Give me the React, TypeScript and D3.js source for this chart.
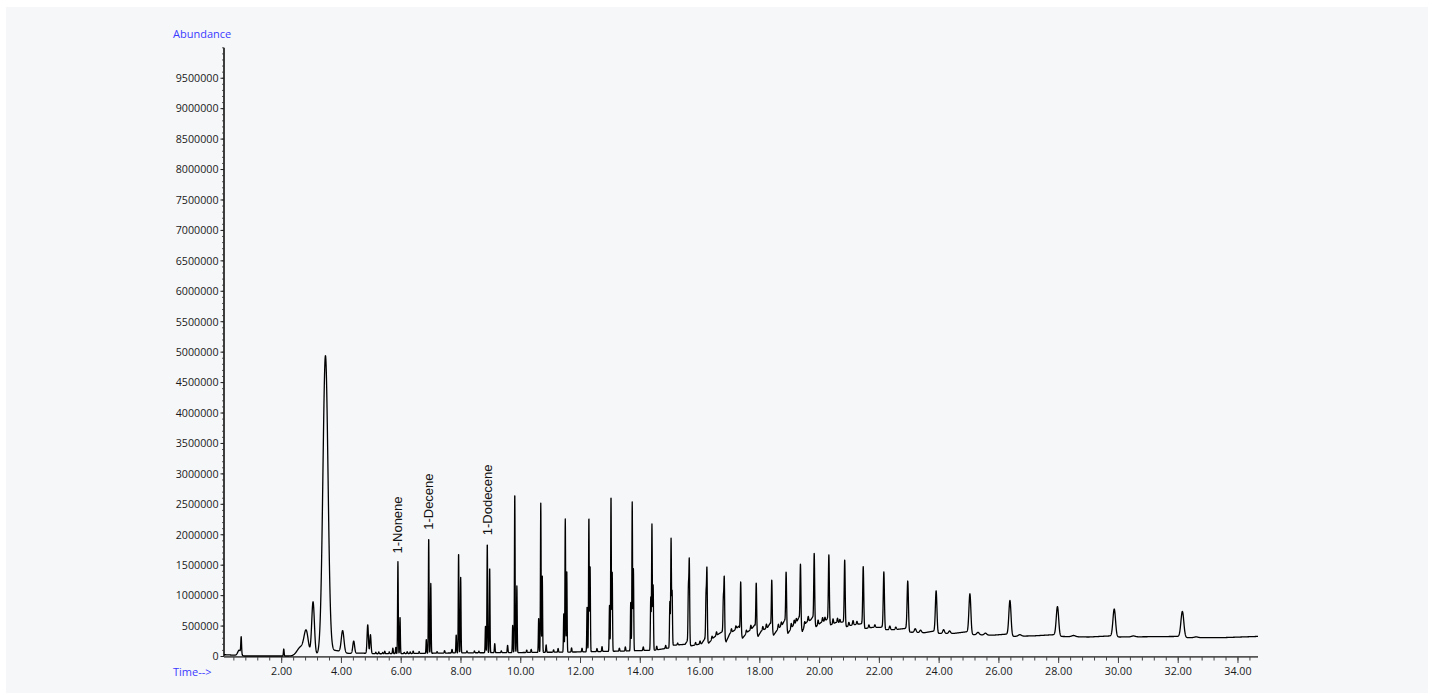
import React from 'react';
import * as d3 from 'd3';

const W = 1435;
const H = 695;

// baseline (time in min, abundance)
const baselinePoints: [number, number][] = [
  [0.07, 30000], [0.4, 22000], [0.75, 8000], [2.3, 8000], [3.0, 25000], [3.9, 50000], [4.7, 55000], [5.2, 45000],
  [6.5, 50000], [8, 60000], [10, 65000], [12, 75000], [13.5, 90000], [14.5, 105000], [14.95, 140000], [15.1, 185000],
  [15.5, 200000], [15.57, 255000], [15.7, 175000], [16.05, 210000], [16.17, 300000], [16.29, 220000], [16.45, 310000],
  [16.62, 370000], [16.75, 410000], [16.87, 240000], [17.0, 380000], [17.15, 430000], [17.3, 500000], [17.42, 300000],
  [17.58, 400000], [17.72, 450000], [17.83, 520000], [17.94, 330000], [18.05, 420000], [18.25, 470000], [18.35, 550000],
  [18.46, 350000], [18.6, 450000], [18.75, 520000], [18.83, 600000], [18.94, 380000], [19.1, 500000], [19.25, 580000],
  [19.31, 650000], [19.42, 410000], [19.55, 560000], [19.7, 600000], [19.77, 650000], [19.88, 490000], [20.05, 560000],
  [20.2, 590000], [20.26, 620000], [20.37, 520000], [20.55, 560000], [20.7, 560000], [20.79, 570000], [20.9, 490000],
  [21.1, 520000], [21.3, 530000], [21.41, 540000], [21.52, 460000], [21.8, 480000], [22.05, 480000], [22.1, 490000],
  [22.21, 440000], [22.5, 440000], [22.85, 460000], [22.9, 470000], [23.01, 400000], [23.5, 390000], [23.85, 420000],
  [23.96, 380000], [24.5, 380000], [24.98, 410000], [25.09, 360000], [25.8, 350000], [26.32, 370000], [26.43, 330000],
  [27.2, 340000], [27.9, 360000], [28.03, 330000], [29.0, 320000], [29.8, 340000], [29.93, 320000], [31.0, 325000],
  [32.08, 330000], [32.21, 310000], [33.5, 310000], [34.67, 330000],
];

// early eluting peaks: time, height above baseline, sigma
const earlyPeaks: [number, number, number][] = [
  [0.58, 90000, 0.05], [0.645, 275000, 0.013], [2.07, 115000, 0.012], [2.64, 140000, 0.12], [2.82, 370000, 0.07],
  [3.05, 870000, 0.045], [3.465, 4900000, 0.085], [3.8, 50000, 0.15], [4.04, 360000, 0.045], [4.41, 200000, 0.03],
  [4.88, 470000, 0.022], [4.97, 310000, 0.02],
];

// main homologous series: apex time, apex abundance, sigma
const seriesTimes = [5.89, 6.92, 7.92, 8.88, 9.80, 10.67, 11.49, 12.28, 13.02, 13.73, 14.39, 15.03, 15.64, 16.23, 16.81,
  17.36, 17.88, 18.40, 18.88, 19.36, 19.82, 20.31, 20.84, 21.46, 22.15, 22.95, 23.90, 25.03, 26.37, 27.96, 29.86, 32.14];
const seriesApex = [1560000, 1950000, 1700000, 1860000, 2680000, 2520000, 2260000, 2290000, 2640000, 2540000, 2170000,
  1930000, 1550000, 1420000, 1280000, 1230000, 1210000, 1260000, 1390000, 1520000, 1700000, 1670000, 1590000, 1480000,
  1390000, 1240000, 1080000, 1030000, 920000, 820000, 780000, 740000];
const seriesSigma = [0.011, 0.011, 0.011, 0.011, 0.011, 0.011, 0.011, 0.011, 0.011, 0.011, 0.012, 0.012, 0.013, 0.013,
  0.013, 0.014, 0.014, 0.014, 0.015, 0.015, 0.015, 0.016, 0.016, 0.017, 0.019, 0.022, 0.026, 0.032, 0.036, 0.04, 0.043, 0.048];

// companion peaks eluting just after / before the main ones: time, apex abundance
const companionPeaks: [number, number][] = [
  [5.96, 650000], [6.99, 1200000], [7.99, 1300000], [8.96, 1460000], [9.87, 1160000], [10.72, 1340000], [11.54, 1410000],
  [12.32, 1490000], [13.06, 1400000], [13.77, 1440000], [14.43, 1170000], [15.065, 1070000], [15.61, 1100000],
  [16.2, 1000000], [16.78, 940000],
];
const precursorPeaks: [number, number][] = [
  [5.82, 150000], [6.84, 280000], [7.84, 356000], [8.82, 500000], [9.73, 510000], [10.6, 630000], [11.44, 710000],
  [12.22, 820000], [12.97, 840000], [13.68, 900000], [14.35, 970000], [14.99, 900000],
];

// small spikes on the baseline: time, height above baseline, sigma
const minorPeaks: [number, number, number][] = [
  [5.15, 25000, 0.012], [5.25, 30000, 0.012], [5.38, 20000, 0.012], [5.45, 40000, 0.012], [5.6, 30000, 0.012],
  [5.72, 90000, 0.012], [6.1, 20000, 0.012], [6.2, 30000, 0.012], [6.3, 25000, 0.012], [6.4, 40000, 0.012],
  [6.6, 30000, 0.012], [7.2, 25000, 0.012], [7.45, 40000, 0.012], [7.7, 60000, 0.012], [8.2, 30000, 0.012],
  [8.45, 30000, 0.012], [8.6, 25000, 0.012], [9.13, 150000, 0.012], [9.35, 30000, 0.012], [9.56, 120000, 0.012],
  [10.2, 40000, 0.012], [10.35, 50000, 0.012], [10.85, 120000, 0.012], [11.1, 40000, 0.012], [11.25, 60000, 0.012],
  [11.7, 70000, 0.012], [12.05, 60000, 0.012], [12.55, 50000, 0.012], [12.72, 80000, 0.012], [13.3, 50000, 0.012],
  [13.5, 70000, 0.012], [14.1, 60000, 0.012], [14.55, 60000, 0.012], [14.85, 50000, 0.012], [15.25, 30000, 0.014],
  [15.85, 40000, 0.014], [16.0, 50000, 0.014], [16.4, 50000, 0.014], [16.55, 60000, 0.014], [17.05, 60000, 0.014],
  [17.2, 50000, 0.014], [17.55, 50000, 0.014], [17.7, 70000, 0.014], [18.1, 60000, 0.014], [18.22, 70000, 0.014],
  [18.62, 70000, 0.014], [18.72, 60000, 0.014], [19.05, 80000, 0.014], [19.15, 70000, 0.014], [19.22, 60000, 0.014],
  [19.5, 70000, 0.014], [19.62, 80000, 0.014], [19.95, 80000, 0.014], [20.1, 70000, 0.014], [20.18, 60000, 0.014],
  [20.45, 80000, 0.014], [20.6, 70000, 0.014], [20.68, 50000, 0.014], [20.98, 60000, 0.016], [21.12, 70000, 0.016],
  [21.25, 50000, 0.016], [21.65, 50000, 0.016], [21.85, 40000, 0.016], [22.35, 60000, 0.02], [22.55, 40000, 0.02],
  [23.2, 60000, 0.03], [23.38, 40000, 0.03], [24.15, 60000, 0.03], [24.35, 40000, 0.03], [25.3, 40000, 0.04],
  [25.55, 30000, 0.04], [26.7, 25000, 0.05], [28.5, 20000, 0.06], [30.5, 15000, 0.06], [32.6, 12000, 0.06],
];

const peakLabels: [string, number][] = [['1-Nonene', 5.89], ['1-Decene', 6.92], ['1-Dodecene', 8.88]];

const yMajorTicks = d3.range(0, 9500001, 500000);
const yMinorTicks = d3.range(0, 10000001, 100000);
const xMajorTicks = d3.range(2, 34.01, 2);
const xMinorTicks = d3.range(0.4, 34.6, 0.4);

const T0 = 0.07;
const T1 = 34.67;

function buildTrace() {
  const base = d3.scaleLinear().domain(baselinePoints.map((d) => d[0])).range(baselinePoints.map((d) => d[1])).clamp(true);
  const peaks: [number, number, number][] = [];
  earlyPeaks.forEach((p) => peaks.push(p));
  minorPeaks.forEach((p) => peaks.push(p));
  seriesTimes.forEach((t, i) => peaks.push([t, seriesApex[i] - base(t), seriesSigma[i]]));
  const sigAt = (t: number) => {
    let best = 0;
    let bd = 1e9;
    seriesTimes.forEach((s, i) => {
      const d = Math.abs(s - t);
      if (d < bd) { bd = d; best = i; }
    });
    return seriesSigma[best];
  };
  companionPeaks.forEach(([t, a]) => peaks.push([t, a - base(t), sigAt(t)]));
  precursorPeaks.forEach(([t, a]) => peaks.push([t, a - base(t), sigAt(t)]));
  const pts: [number, number][] = [];
  const step = 0.004;
  for (let t = T0; t <= T1 + 1e-9; t += step) {
    let v = base(t);
    for (const [c, h, s] of peaks) {
      const dt = t - c;
      if (Math.abs(dt) < 6 * s) v += h * Math.exp(-(dt * dt) / (2 * s * s));
    }
    pts.push([t, v]);
  }
  return pts;
}

export default function App() {
  const x = d3.scaleLinear().domain([T0, T1]).range([224, 1258]);
  const y = d3.scaleLinear().domain([0, 10000000]).range([656.5, 47.8]);
  const trace = React.useMemo(buildTrace, []);
  const line = d3.line<[number, number]>().x((d) => x(d[0])).y((d) => y(d[1]));
  const apexOf = (t: number) => seriesApex[seriesTimes.indexOf(t)];
  const tickFont = "'Open Sans', 'DejaVu Sans', sans-serif";
  return (
    <div style={{ position: 'absolute', left: 0, top: 0 }}>
      <svg width={W} height={H} viewBox={`0 0 ${W} ${H}`} style={{ display: 'block' }}>
        <rect x={0} y={0} width={W} height={H} fill="#ffffff" />
        <rect x={6} y={7} width={1422} height={686} fill="#f6f7f9" />
        <text x={173} y={38} fontFamily={tickFont} fontSize={11} fill="#3b3bff">Abundance</text>
        <text x={173} y={676} fontFamily={tickFont} fontSize={11} fill="#3b3bff">Time--&gt;</text>
        {/* y axis */}
        <line x1={224} x2={224} y1={y(10000000)} y2={y(0)} stroke="#000" strokeWidth={1.5} />
        {yMinorTicks.map((v) => (
          <line key={'ym' + v} x1={222} x2={224} y1={y(v)} y2={y(v)} stroke="#333" strokeWidth={0.8} />
        ))}
        {yMajorTicks.map((v) => (
          <g key={'yM' + v}>
            <line x1={220.5} x2={224} y1={y(v)} y2={y(v)} stroke="#222" strokeWidth={1} />
            <text x={218.5} y={y(v) + 3.8} textAnchor="end" fontFamily={tickFont} fontSize={10.7} fill="#1a1a1a">{v}</text>
          </g>
        ))}
        {/* x axis */}
        <line x1={224} x2={1258} y1={656.8} y2={656.8} stroke="#555" strokeWidth={1.8} />
        {xMinorTicks.map((t) => (
          <line key={'xm' + t} x1={x(t)} x2={x(t)} y1={657} y2={660.5} stroke="#444" strokeWidth={1} />
        ))}
        {xMajorTicks.map((t) => (
          <g key={'xM' + t}>
            <line x1={x(t)} x2={x(t)} y1={657} y2={663} stroke="#444" strokeWidth={1} />
            <text x={x(t)} y={674.5} textAnchor="middle" fontFamily={tickFont} fontSize={10.7} fill="#1a1a1a">{t.toFixed(2)}</text>
          </g>
        ))}
        {/* trace */}
        <path d={line(trace) || ''} fill="none" stroke="#000" strokeWidth={1.3} strokeLinejoin="round" />
        {peakLabels.map(([name, t]) => {
          const px = x(t) + 4.5;
          const py = y(apexOf(t)) - 8;
          return (
            <text key={name} transform={`translate(${px},${py}) rotate(-90)`} fontFamily="'Liberation Sans', Arial, sans-serif"
              fontSize={13} fill="#111">{name}</text>
          );
        })}
      </svg>
    </div>
  );
}
